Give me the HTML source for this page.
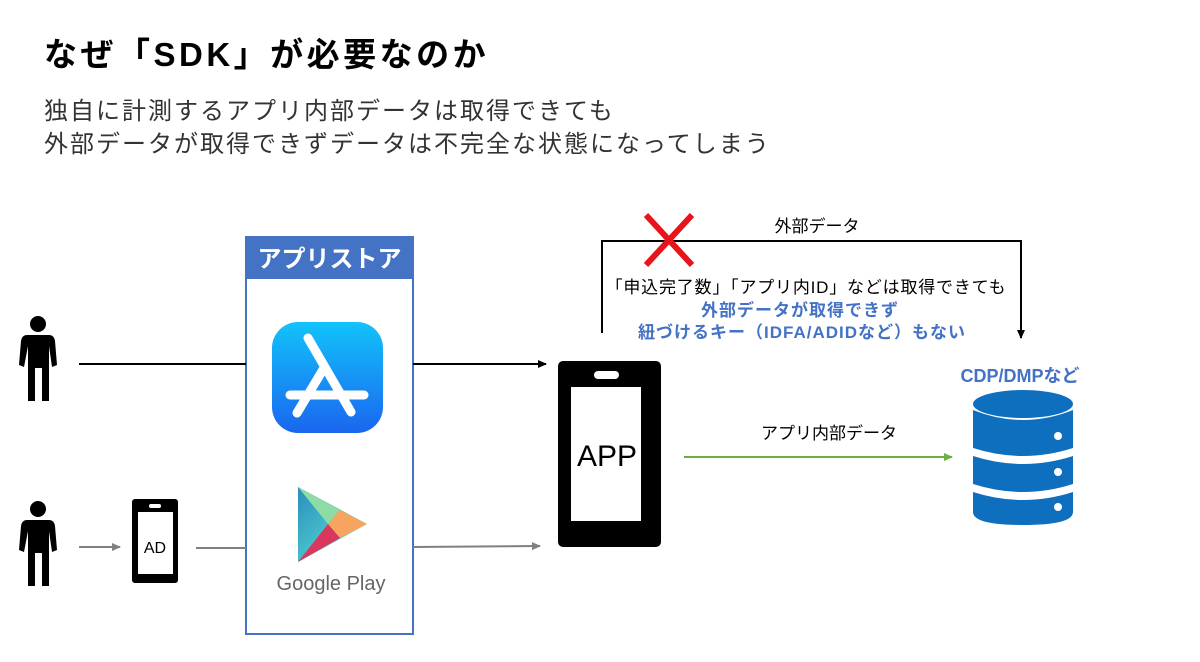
<!DOCTYPE html>
<html><head><meta charset="utf-8"><style>
body{margin:0;background:#fff;}
svg{display:block;font-family:"Liberation Sans","Noto Sans CJK JP",sans-serif;}
</style></head><body>
<svg width="1200" height="662" viewBox="0 0 1200 662" xmlns="http://www.w3.org/2000/svg">
<defs>
<marker id="ab" markerWidth="10" markerHeight="10" refX="8" refY="5" orient="auto" markerUnits="userSpaceOnUse"><path d="M0,1 L9,5 L0,9z" fill="#000"/></marker>
<marker id="ag" markerWidth="10" markerHeight="10" refX="8" refY="5" orient="auto" markerUnits="userSpaceOnUse"><path d="M0,1 L9,5 L0,9z" fill="#808080"/></marker>
<marker id="agr" markerWidth="10" markerHeight="10" refX="8" refY="5" orient="auto" markerUnits="userSpaceOnUse"><path d="M0,1 L9,5 L0,9z" fill="#70AD47"/></marker>
<linearGradient id="as" x1="0" y1="0" x2="0" y2="1"><stop offset="0" stop-color="#12c3fb"/><stop offset="1" stop-color="#1a66ef"/></linearGradient>
<linearGradient id="gp1" x1="0" y1="0" x2="1" y2="1"><stop offset="0" stop-color="#2b8cbf"/><stop offset="1" stop-color="#5ef1d3"/></linearGradient>
</defs>
<text x="44" y="66" font-size="33" font-weight="bold" fill="#000" letter-spacing="3.5">なぜ「SDK」が必要なのか</text>
<text x="44" y="119" font-size="24" fill="#333" letter-spacing="2">独自に計測するアプリ内部データは取得できても</text>
<text x="44" y="152" font-size="24" fill="#333" letter-spacing="2">外部データが取得できずデータは不完全な状態になってしまう</text>

<rect x="246" y="237" width="167" height="397" fill="#fff" stroke="#4472C4" stroke-width="2"/>
<rect x="246" y="237" width="167" height="42" fill="#4472C4"/>
<text x="329.5" y="267" font-size="24" font-weight="bold" fill="#fff" text-anchor="middle">アプリストア</text>
<rect x="272" y="322" width="111" height="111" rx="26" fill="url(#as)"/>
<g stroke="#fff" stroke-width="9" stroke-linecap="round">
<line x1="324" y1="368" x2="297" y2="413"/>
<line x1="308" y1="368" x2="351" y2="442" transform="translate(0,-30)"/>
<line x1="290" y1="395" x2="364" y2="395"/>
</g>
<polygon points="298,487 298,562 367,524" fill="url(#gp1)"/>
<polygon points="298,487 340,510 328,524" fill="#8fdba5"/>
<polygon points="340,510 367,524 340,538 328,524" fill="#f7a55e"/>
<polygon points="328,524 340,538 298,562" fill="#d9385e"/>
<text x="331" y="590" font-size="20" fill="#666" text-anchor="middle">Google Play</text>

<g fill="#000">
<circle cx="38" cy="324" r="8"/>
<path d="M27,335 H49 Q54,335 55,341 L57,365 L52,367 L49,346 V401 H42 V368 H35 V401 H28 V346 L24,367 L19,365 L21,341 Q22,335 27,335z"/>
<circle cx="38" cy="509" r="8"/>
<path d="M27,520 H49 Q54,520 55,526 L57,550 L52,552 L49,531 V586 H42 V553 H35 V586 H28 V531 L24,552 L19,550 L21,526 Q22,520 27,520z"/>
</g>

<line x1="79" y1="364" x2="246" y2="364" stroke="#000" stroke-width="2"/>
<line x1="413" y1="364" x2="546" y2="364" stroke="#000" stroke-width="2" marker-end="url(#ab)"/>
<line x1="79" y1="547" x2="120" y2="547" stroke="#808080" stroke-width="2" marker-end="url(#ag)"/>
<line x1="196" y1="548" x2="246" y2="548" stroke="#808080" stroke-width="2"/>
<line x1="413" y1="547" x2="540" y2="546" stroke="#808080" stroke-width="2" marker-end="url(#ag)"/>

<rect x="132" y="499" width="46" height="84" rx="3" fill="#000"/>
<rect x="138" y="512" width="35" height="62" fill="#fff"/>
<rect x="149" y="504" width="12" height="4" rx="2" fill="#fff"/>
<text x="155" y="553" font-size="16" fill="#000" text-anchor="middle">AD</text>

<rect x="558" y="361" width="103" height="186" rx="5" fill="#000"/>
<rect x="571" y="387" width="70" height="134" fill="#fff"/>
<rect x="594" y="371" width="25" height="8" rx="4" fill="#fff"/>
<text x="607" y="466" font-size="30" fill="#000" text-anchor="middle">APP</text>

<polyline points="602,333 602,241 1021,241 1021,338" fill="none" stroke="#000" stroke-width="2" marker-end="url(#ab)"/>
<g stroke="#e8141b" stroke-width="6">
<line x1="646" y1="215" x2="692" y2="265"/>
<line x1="692" y1="215" x2="646" y2="265"/>
</g>
<text x="817" y="232" font-size="17" fill="#000" text-anchor="middle">外部データ</text>
<text x="806" y="293" font-size="17" fill="#000" text-anchor="middle" letter-spacing="0.8">「申込完了数」「アプリ内ID」などは取得できても</text>
<text x="800" y="316" font-size="17" font-weight="bold" fill="#4472C4" text-anchor="middle" letter-spacing="1">外部データが取得できず</text>
<text x="802" y="338" font-size="17" font-weight="bold" fill="#4472C4" text-anchor="middle" letter-spacing="1">紐づけるキー（IDFA/ADIDなど）もない</text>

<text x="829" y="439" font-size="17" fill="#000" text-anchor="middle">アプリ内部データ</text>
<line x1="684" y1="457" x2="952" y2="457" stroke="#70AD47" stroke-width="2" marker-end="url(#agr)"/>

<text x="1020" y="382" font-size="18" font-weight="bold" fill="#4472C4" text-anchor="middle">CDP/DMPなど</text>
<g fill="#0f6fbf">
<ellipse cx="1023" cy="404" rx="50" ry="14"/>
<path d="M973,410 Q1023,430 1073,410 V448 Q1023,464 973,448z"/>
<path d="M973,456 Q1023,472 1073,456 V484 Q1023,500 973,484z"/>
<path d="M973,492 Q1023,508 1073,492 V512 Q1073,525 1023,525 Q973,525 973,512z"/>
</g>
<g fill="#fff">
<circle cx="1058" cy="436" r="4"/>
<circle cx="1058" cy="472" r="4"/>
<circle cx="1058" cy="507" r="4"/>
</g>
</svg>
</body></html>
